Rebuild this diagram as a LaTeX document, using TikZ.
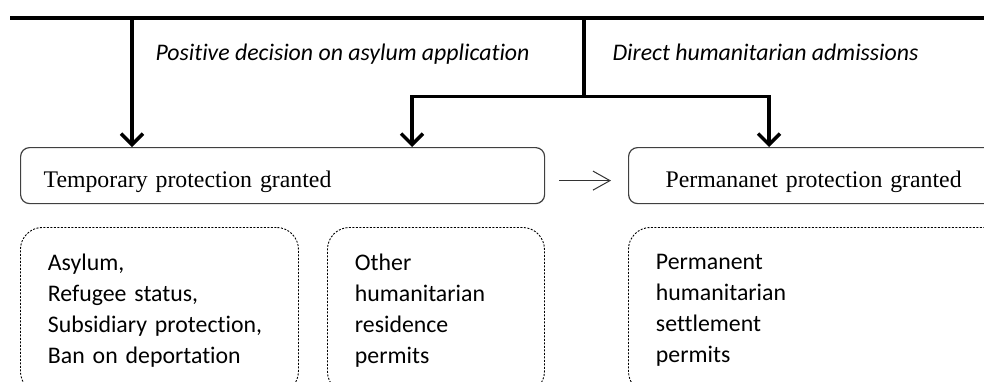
\documentclass[tikz,border=0pt]{standalone}
\usepackage{fontspec}
\setmainfont{Liberation Serif}
\newfontfamily\calibri[Ligatures={NoCommon}]{Carlito}
\usetikzlibrary{arrows.meta}

\begin{document}
\begin{tikzpicture}[x=1pt,y=-1pt,
    stage/.style={draw=black!75, line width=1.2pt, rounded corners=9pt, anchor=north west,
        minimum height=56pt, inner xsep=23pt, align=left, text height=26pt, text depth=2pt,
        font=\fontsize{23.8}{28}\selectfont},
    permits/.style={draw, line width=0.9pt, dash pattern=on 2pt off 1.5pt, rounded corners=22pt,
        anchor=north west, minimum height=166pt, inner xsep=27.5pt, align=left,
        font=\calibri\fontsize{23.8}{31}\selectfont},
    route/.style={line width=3.5pt},
    route arrow/.style={route, -{Straight Barb[length=11pt,width=22pt]}},
    path label/.style={anchor=base west, font=\calibri\itshape\fontsize{23.8}{28}\selectfont}]
    \clip (0,0) rectangle (984,381);
    % stages
    \node[stage, text width=478pt] (temp) at (20,147) {Temporary protection granted};
    \node[stage, inner xsep=37pt, text width=326pt] (perm) at (628,147) {Permananet protection granted};
    % permit types
    \node[permits, text width=223pt] (status) at (20,227) {Asylum,\\Refugee status,\\Subsidiary protection,\\Ban on deportation};
    \node[permits, text width=162pt] (other) at (327,227) {Other\\humanitarian\\residence\\permits};
    \node[permits, text width=345pt] (settle) at (628,227) {Permanent\\humanitarian\\settlement\\permits};
    % routes
    \coordinate (lineL) at (10,18);
    \coordinate (lineR) at (995,18);
    \coordinate (drop) at (132,18);
    \coordinate (split) at (584,18);
    \coordinate (fork) at (584,96.5);
    \coordinate (forkL) at (412,96.5);
    \coordinate (forkR) at (769,96.5);
    \draw[route] (lineL) -- (lineR);
    \draw[route arrow] (drop) -- (drop |- temp.north);
    \draw[route] (split) -- (fork);
    \draw[route arrow] (fork) -- (forkL) -- (forkL |- temp.north);
    \draw[route arrow] (fork) -- (forkR) -- (forkR |- perm.north);
    \node[path label] (asylum) at (152,60) {Positive decision on asylum application};
    \node[path label] (direct) at (609,60) {Direct humanitarian admissions};
    % temporary to permanent
    \draw[black!80, line width=1pt, -{Straight Barb[length=17pt,width=19pt]}, shorten <=14pt, shorten >=17pt]
        ([yshift=-5pt]temp.east) -- ([yshift=-5pt]perm.west);
\end{tikzpicture}
\end{document}
